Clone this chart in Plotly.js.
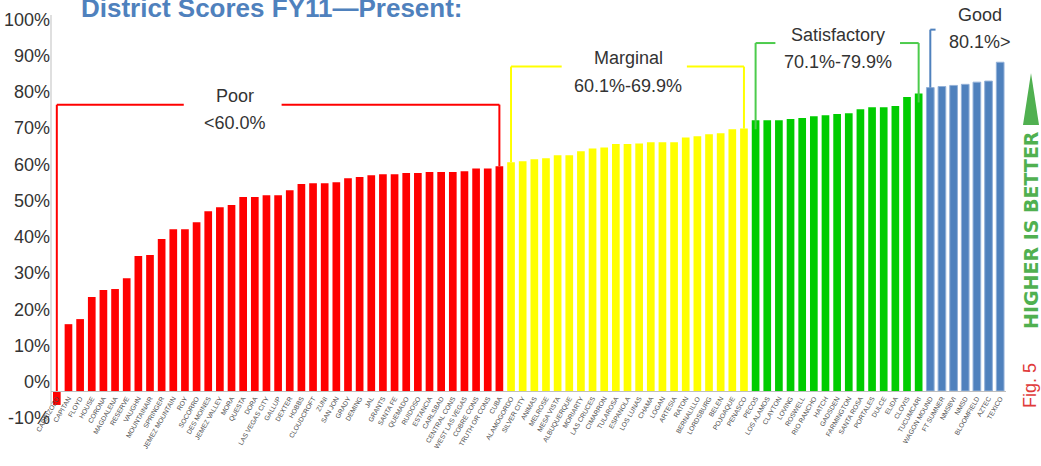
<!DOCTYPE html>
<html>
<head>
<meta charset="utf-8">
<script src="https://cdn.plot.ly/plotly-3.0.1.min.js"></script>
<style>html,body{margin:0;padding:0;background:#fff;}#chart{width:1041px;height:466px;}</style>
</head>
<body>
<div id="chart"></div>
<script>
// ---------------- DATA ----------------
const poorDistricts = ['CARRIZOZO','CAPITAN','FLOYD','HOUSE','CORONA','MAGDALENA','RESERVE','VAUGHN','MOUNTAINAIR','SPRINGER','JEMEZ MOUNTAIN','ROY','SOCORRO','DES MOINES','JEMEZ VALLEY','MORA','QUESTA','DORA','LAS VEGAS CITY','GALLUP','DEXTER','HOBBS','CLOUDCROFT','ZUNI','SAN JON','GRADY','DEMING','JAL','GRANTS','SANTA FE','QUEMADO','RUIDOSO','ESTANCIA','CARLSBAD','CENTRAL CONS','WEST LAS VEGAS','COBRE CONS','TRUTH OR CONS','CUBA'];
const poorScores = [-0.064,0.159,0.173,0.234,0.253,0.256,0.286,0.347,0.350,0.394,0.421,0.421,0.440,0.471,0.482,0.488,0.510,0.510,0.515,0.515,0.529,0.546,0.548,0.548,0.551,0.562,0.565,0.570,0.573,0.573,0.576,0.576,0.579,0.579,0.579,0.581,0.589,0.589,0.595];

const marginalDistricts = ['ALAMOGORDO','SILVER CITY','ANIMAS','MELROSE','MESA VISTA','ALBUQUERQUE','MORIARTY','LAS CRUCES','CIMARRON','TULAROSA','ESPANOLA','LOS LUNAS','CHAMA','LOGAN','ARTESIA','RATON','BERNALILLO','LORDSBURG','BELEN','POJOAQUE','PENASCO'];
const marginalScores = [0.606,0.609,0.614,0.617,0.625,0.625,0.636,0.644,0.647,0.656,0.656,0.658,0.661,0.661,0.661,0.674,0.678,0.683,0.686,0.697,0.699];

const satisfactoryDistricts = ['PECOS','LOS ALAMOS','CLAYTON','LOVING','ROSWELL','RIO RANCHO','HATCH','GADSDEN','FARMINGTON','SANTA ROSA','PORTALES','DULCE','ELIDA','CLOVIS','TUCUMCARI'];
const satisfactoryScores = [0.722,0.722,0.722,0.725,0.728,0.733,0.736,0.739,0.741,0.752,0.758,0.758,0.761,0.786,0.796];

const goodDistricts = ['WAGON MOUND','FT SUMNER','NMSBVI','NMSD','BLOOMFIELD','AZTEC','TEXICO'];
const goodScores = [0.812,0.815,0.818,0.821,0.827,0.830,0.882];

const yTickValues = [-0.1,0,0.1,0.2,0.3,0.4,0.5,0.6,0.7,0.8,0.9,1.0];
const yTickLabels = ['-10%','0%','10%','20%','30%','40%','50%','60%','70%','80%','90%','100%'];

const titleText = 'District Scores FY11\u2014Present:';
const tierNames = ['Poor','Marginal','Satisfactory','Good'];
const tierRanges = ['<60.0%','60.1%-69.9%','70.1%-79.9%','80.1%>'];

// ---------------- LAYOUT CONSTANTS ----------------
const W = 1041, H = 466;
const M = {l:51, r:35, t:15, b:48};
const PW = W - M.l - M.r, PH = H - M.t - M.b;
const Y_RANGE = [-0.1, 1.0124];
const BASE = -0.0255;             // where the category axis crosses
const SANS = '"Liberation Sans",Arial,sans-serif';
const px = x => (x - M.l) / PW;
const py = y => (H - M.b - y) / PH;

const categories = poorDistricts.concat(marginalDistricts, satisfactoryDistricts, goodDistricts);
const allScores = poorScores.concat(marginalScores, satisfactoryScores, goodScores);
const idx = name => categories.indexOf(name);
const val = name => allScores[idx(name)];

function barTrace(xs, ys, color, line) {
  return {
    type: 'bar', x: xs, y: ys.map(v => v - BASE), base: BASE,
    marker: {color: color, line: line || {width: 0}},
    hoverinfo: 'x+text', text: ys.map(v => (v*100).toFixed(1)+'%'), textposition: 'none',
    showlegend: false
  };
}

const data = [
  barTrace(poorDistricts, poorScores, '#FF0000'),
  barTrace(marginalDistricts, marginalScores, '#FFFF00'),
  barTrace(satisfactoryDistricts, satisfactoryScores, '#00CC00'),
  barTrace(goodDistricts, goodScores, '#4F81BD', {color: '#93B1D8', width: 1})
];

// brackets
const brackets = [
  {first: poorDistricts[0], last: poorDistricts[poorDistricts.length-1], level: 0.765, gapL: 10.9, gapR: 19.3, color: '#FF0000', dip: 0},
  {first: marginalDistricts[0], last: marginalDistricts[marginalDistricts.length-1], level: 0.870, gapL: 43.35, gapR: 54.1, color: '#FFFF00', dip: 0},
  {first: satisfactoryDistricts[0], last: satisfactoryDistricts[satisfactoryDistricts.length-1], level: 0.935, gapL: 61.7, gapR: 72.4, color: '#4CCB4C', dip: 0.025},
  {first: goodDistricts[0], last: null, level: 0.972, gapL: 75.45, gapR: null, color: '#4F81BD', dip: 0}
];
const shapes = [];
brackets.forEach(b => {
  const i0 = idx(b.first);
  const lineStyle = {color: b.color, width: 2};
  shapes.push({type:'line', xref:'x', yref:'y', x0:i0, x1:i0, y0:Math.max(val(b.first), BASE) - b.dip, y1:b.level, line:lineStyle});
  shapes.push({type:'line', xref:'x', yref:'y', x0:i0, x1:b.gapL, y0:b.level, y1:b.level, line:lineStyle});
  if (b.last) {
    const i1 = idx(b.last);
    shapes.push({type:'line', xref:'x', yref:'y', x0:b.gapR, x1:i1, y0:b.level, y1:b.level, line:lineStyle});
    shapes.push({type:'line', xref:'x', yref:'y', x0:i1, x1:i1, y0:val(b.last) - b.dip, y1:b.level, line:lineStyle});
  }
});
// value axis line
shapes.push({type:'line', xref:'paper', yref:'y', x0:0, x1:0, y0:-0.065, y1:Y_RANGE[1], line:{color:'#BFBFBF', width:1}});
// "higher is better" arrow
shapes.push({type:'path', xref:'paper', yref:'paper',
  path: `M ${px(1031)} ${py(73)} L ${px(1039)} ${py(125)} L ${px(1023)} ${py(125)} Z`,
  fillcolor:'#50B050', line:{width:0}});

const textFont = {family: SANS, size: 18, color: '#333333'};
function label(text, x, y, font, extra) {
  return Object.assign({text: text, xref:'paper', yref:'paper', x: px(x), y: py(y),
    xanchor:'center', yanchor:'middle', showarrow:false, font: font}, extra || {});
}
const annotations = [
  label(titleText, 272, 8, {family: SANS, size:26, color:'#4F81BD', weight:'bold'}),
  label(tierNames[0], 235, 96, textFont),
  label(tierRanges[0], 235, 123, textFont),
  label(tierNames[1], 628, 58, textFont),
  label(tierRanges[1], 628, 86, textFont),
  label(tierNames[2], 838, 35, textFont),
  label(tierRanges[2], 838, 62, textFont),
  label(tierNames[3], 980, 15, textFont),
  label(tierRanges[3], 980, 42, textFont),
  label('HIGHER IS BETTER', 1031, 230, {family:'"DejaVu Sans",Verdana,sans-serif', size:19, color:'#50B050', weight:'bold'}, {textangle:-90}),
  label('Fig. 5', 1030, 386, {family: SANS, size:18, color:'#E03A3A'}, {textangle:-90})
];

const layout = {
  width: W, height: H,
  margin: M,
  paper_bgcolor: '#ffffff', plot_bgcolor: 'rgba(0,0,0,0)',
  barmode: 'overlay', bargap: 0.34,
  showlegend: false,
  xaxis: {
    type: 'category', categoryorder: 'array', categoryarray: categories,
    range: [-0.5, categories.length - 0.5],
    anchor: 'free', position: (BASE - Y_RANGE[0]) / (Y_RANGE[1] - Y_RANGE[0]),
    showline: true, linecolor: '#BFBFBF', linewidth: 1,
    showgrid: false, zeroline: false, ticks: '',
    tickmode: 'array', tickvals: categories, ticktext: categories,
    tickangle: -60, tickfont: {family: SANS, size: 6.7, color: '#4D4D4D'},
    fixedrange: true
  },
  yaxis: {
    range: Y_RANGE, showgrid: false, zeroline: false, showline: false, ticks: '',
    tickmode: 'array', tickvals: yTickValues, ticktext: yTickLabels,
    tickfont: {family: SANS, size: 18, color: '#333333'},
    fixedrange: true
  },
  shapes: shapes,
  annotations: annotations
};

Plotly.newPlot('chart', data, layout, {displayModeBar: false, staticPlot: true});
</script>
</body>
</html>
